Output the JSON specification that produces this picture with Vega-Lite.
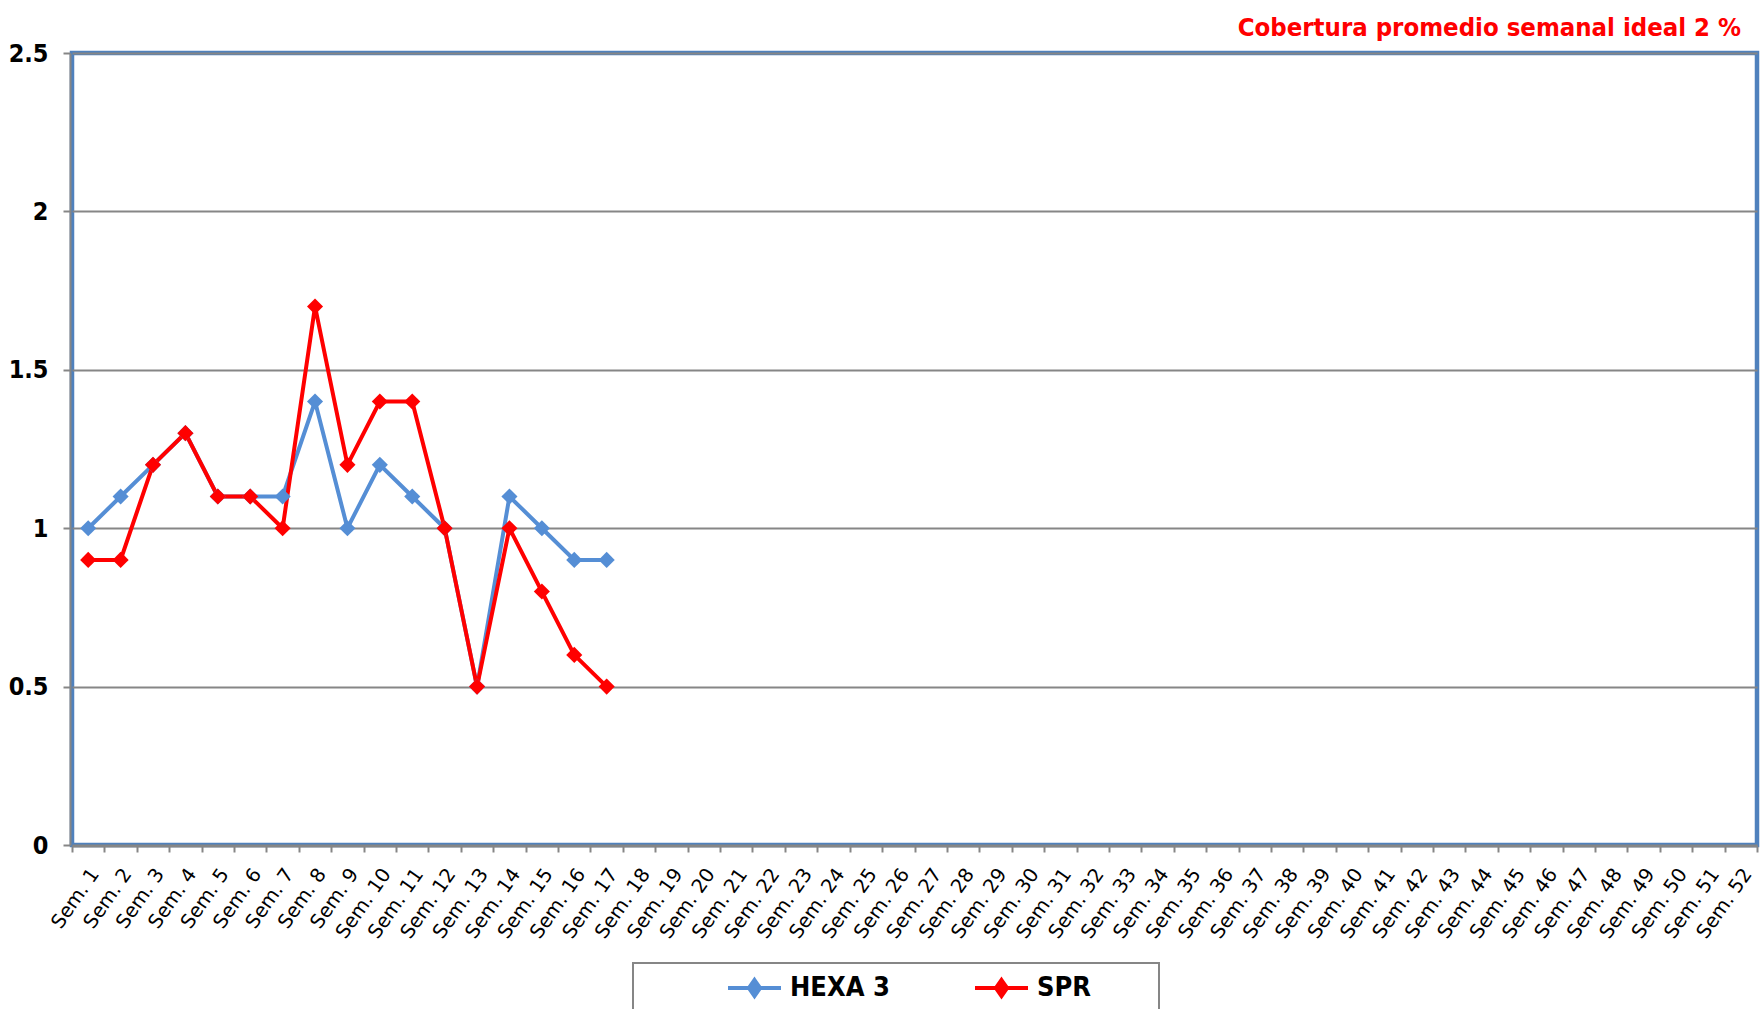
{
  "$schema": "https://vega.github.io/schema/vega-lite/v6.json",
  "autosize": "none",
  "width": 1685,
  "height": 792,
  "padding": {"left": 72, "top": 53, "right": 7, "bottom": 164},
  "background": "white",
  "title": {
    "text": "Cobertura promedio semanal ideal 2 %",
    "anchor": "end",
    "color": "#FF0000",
    "font": "DejaVu Sans Condensed",
    "fontSize": 25.5,
    "fontWeight": "bold",
    "baseline": "alphabetic",
    "offset": 18,
    "dx": -17,
    "dy": 38
  },
  "config": {
    "view": {"stroke": "#4F81BD", "strokeWidth": 4.5},
    "axis": {"domainColor": "#868686", "tickColor": "#868686", "gridColor": "#868686", "domainWidth": 2, "tickWidth": 2, "gridWidth": 2}
  },
  "data": {
    "values": [
      {"sem": "Sem. 1", "serie": "HEXA 3", "valor": 1.0},
      {"sem": "Sem. 2", "serie": "HEXA 3", "valor": 1.1},
      {"sem": "Sem. 3", "serie": "HEXA 3", "valor": 1.2},
      {"sem": "Sem. 4", "serie": "HEXA 3", "valor": 1.3},
      {"sem": "Sem. 5", "serie": "HEXA 3", "valor": 1.1},
      {"sem": "Sem. 6", "serie": "HEXA 3", "valor": 1.1},
      {"sem": "Sem. 7", "serie": "HEXA 3", "valor": 1.1},
      {"sem": "Sem. 8", "serie": "HEXA 3", "valor": 1.4},
      {"sem": "Sem. 9", "serie": "HEXA 3", "valor": 1.0},
      {"sem": "Sem. 10", "serie": "HEXA 3", "valor": 1.2},
      {"sem": "Sem. 11", "serie": "HEXA 3", "valor": 1.1},
      {"sem": "Sem. 12", "serie": "HEXA 3", "valor": 1.0},
      {"sem": "Sem. 13", "serie": "HEXA 3", "valor": 0.5},
      {"sem": "Sem. 14", "serie": "HEXA 3", "valor": 1.1},
      {"sem": "Sem. 15", "serie": "HEXA 3", "valor": 1.0},
      {"sem": "Sem. 16", "serie": "HEXA 3", "valor": 0.9},
      {"sem": "Sem. 17", "serie": "HEXA 3", "valor": 0.9},
      {"sem": "Sem. 1", "serie": "SPR", "valor": 0.9},
      {"sem": "Sem. 2", "serie": "SPR", "valor": 0.9},
      {"sem": "Sem. 3", "serie": "SPR", "valor": 1.2},
      {"sem": "Sem. 4", "serie": "SPR", "valor": 1.3},
      {"sem": "Sem. 5", "serie": "SPR", "valor": 1.1},
      {"sem": "Sem. 6", "serie": "SPR", "valor": 1.1},
      {"sem": "Sem. 7", "serie": "SPR", "valor": 1.0},
      {"sem": "Sem. 8", "serie": "SPR", "valor": 1.7},
      {"sem": "Sem. 9", "serie": "SPR", "valor": 1.2},
      {"sem": "Sem. 10", "serie": "SPR", "valor": 1.4},
      {"sem": "Sem. 11", "serie": "SPR", "valor": 1.4},
      {"sem": "Sem. 12", "serie": "SPR", "valor": 1.0},
      {"sem": "Sem. 13", "serie": "SPR", "valor": 0.5},
      {"sem": "Sem. 14", "serie": "SPR", "valor": 1.0},
      {"sem": "Sem. 15", "serie": "SPR", "valor": 0.8},
      {"sem": "Sem. 16", "serie": "SPR", "valor": 0.6},
      {"sem": "Sem. 17", "serie": "SPR", "valor": 0.5}
    ]
  },
  "mark": {"type": "line", "strokeWidth": 4, "point": {"filled": true, "shape": "diamond", "size": 260}},
  "encoding": {
    "x": {
      "field": "sem",
      "type": "nominal",
      "sort": null,
      "scale": {
        "type": "band",
        "paddingInner": 0,
        "paddingOuter": 0,
        "domain": ["Sem. 1","Sem. 2","Sem. 3","Sem. 4","Sem. 5","Sem. 6","Sem. 7","Sem. 8","Sem. 9","Sem. 10","Sem. 11","Sem. 12","Sem. 13","Sem. 14","Sem. 15","Sem. 16","Sem. 17","Sem. 18","Sem. 19","Sem. 20","Sem. 21","Sem. 22","Sem. 23","Sem. 24","Sem. 25","Sem. 26","Sem. 27","Sem. 28","Sem. 29","Sem. 30","Sem. 31","Sem. 32","Sem. 33","Sem. 34","Sem. 35","Sem. 36","Sem. 37","Sem. 38","Sem. 39","Sem. 40","Sem. 41","Sem. 42","Sem. 43","Sem. 44","Sem. 45","Sem. 46","Sem. 47","Sem. 48","Sem. 49","Sem. 50","Sem. 51","Sem. 52"]
      },
      "axis": {
        "title": null,
        "grid": false,
        "tickBand": "extent",
        "tickSize": 6,
        "offset": 1,
        "labelAngle": -55,
        "labelAlign": "right",
        "labelBaseline": "top",
        "labelOffset": -1,
        "labelPadding": 13,
        "labelFont": "DejaVu Sans",
        "labelFontSize": 19.5,
        "labelColor": "#000000",
        "labelOverlap": false,
        "labelBound": false
      }
    },
    "y": {
      "field": "valor",
      "type": "quantitative",
      "scale": {"domain": [0, 2.5], "nice": false, "zero": true},
      "axis": {
        "title": null,
        "values": [0, 0.5, 1, 1.5, 2, 2.5],
        "format": "~g",
        "tickSize": 7,
        "offset": 2,
        "labelPadding": 15,
        "labelFont": "DejaVu Sans Condensed",
        "labelFontSize": 25,
        "labelFontWeight": "bold",
        "labelColor": "#000000",
        "grid": true
      }
    },
    "color": {
      "field": "serie",
      "type": "nominal",
      "scale": {"domain": ["HEXA 3", "SPR"], "range": ["#558ED5", "#FF0000"]},
      "legend": {
        "title": "\u00a0",
        "titleOrient": "right",
        "titlePadding": 58,
        "titleFontSize": 2,
        "orient": "none",
        "direction": "horizontal",
        "legendX": 561,
        "legendY": 910,
        "padding": 10,
        "clipHeight": 30,
        "strokeColor": "#868686",
        "fillColor": "white",
        "symbolType": "M-1,0L1,0M0,-0.3L0.21,0L0,0.3L-0.21,0Z",
        "symbolSize": 2809,
        "symbolStrokeWidth": 4,
        "symbolOffset": 83,
        "labelOffset": 7,
        "columnPadding": -11,
        "labelFont": "DejaVu Sans Condensed",
        "labelFontSize": 27,
        "labelFontWeight": "bold",
        "labelColor": "#000000",
        "encode": {
          "symbols": {"update": {"fill": {"scale": "color", "field": "value"}, "stroke": {"scale": "color", "field": "value"}}},
          "legend": {"update": {"strokeWidth": {"value": 2}}}
        }
      }
    }
  }
}
